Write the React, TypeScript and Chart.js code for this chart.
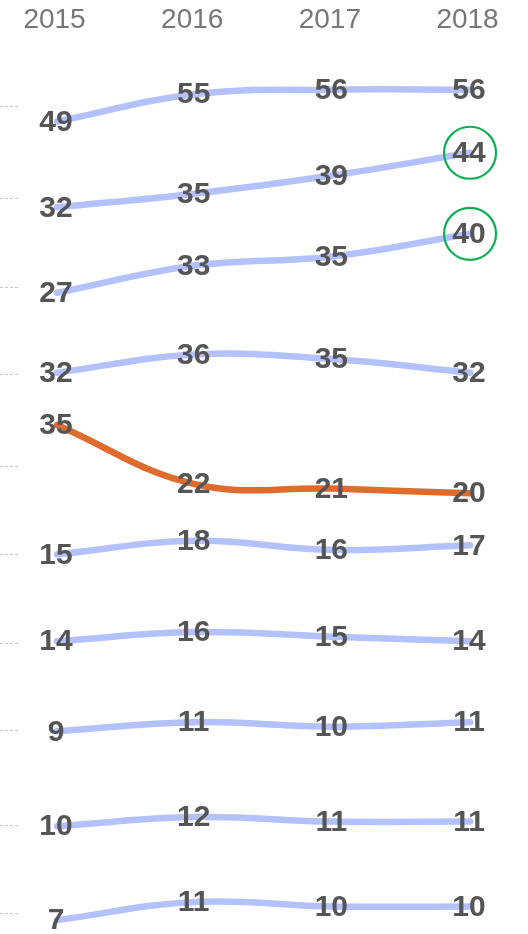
import React, { useEffect, useRef } from 'react';
import { Chart, registerables } from 'chart.js';

Chart.register(...registerables);

// ---- data ----
const years = [2015, 2016, 2017, 2018];
const row1 = [49, 55, 56, 56];
const row2 = [32, 35, 39, 44];
const row3 = [27, 33, 35, 40];
const row4 = [32, 36, 35, 32];
const row5 = [35, 22, 21, 20];
const row6 = [15, 18, 16, 17];
const row7 = [14, 16, 15, 14];
const row8 = [9, 11, 10, 11];
const row9 = [10, 12, 11, 11];
const row10 = [7, 11, 10, 10];
const rows = [row1, row2, row3, row4, row5, row6, row7, row8, row9, row10];
const highlightRow = 4; // orange row (index)
const circledRows = [1, 2]; // rows whose 2018 value is circled
const circledYear = 2018;

// ---- layout options (per-row axis windows) ----
const rowAxisMin = [52.3, 34.04, 28.25, 31.65, 25.8, 14.88, 13.56, 9.2, 10.22, 8.5];
const rowAxisHeight = [67, 91.7, 89.3, 87.3, 92.7, 88.3, 88.4, 87.3, 95, 88.3];
const pxPerUnit = 4.55;

const FONT = "'Liberation Sans', Arial, Helvetica, sans-serif";
const BLUE = '#b4c1ff';
const ORANGE = '#e06b2e';
const GREEN = '#0fae55';

const valueLabels = {
  id: 'valueLabels',
  afterDatasetsDraw(chart: any) {
    const ctx = chart.ctx;
    ctx.save();
    ctx.font = `bold 30px ${FONT}`;
    ctx.fillStyle = '#555555';
    ctx.textAlign = 'center';
    ctx.textBaseline = 'middle';
    chart.data.datasets.forEach((ds: any, i: number) => {
      const meta = chart.getDatasetMeta(i);
      meta.data.forEach((pt: any, j: number) => {
        ctx.fillText(String(ds.data[j].y), pt.x - 1, pt.y + 1);
      });
    });
    ctx.restore();
  },
};

const zeroPadding = (axis: any) => {
  axis.paddingLeft = 0;
  axis.paddingRight = 0;
  axis.paddingTop = 0;
  axis.paddingBottom = 0;
};

export default function App() {
  const ref = useRef<HTMLCanvasElement>(null);

  useEffect(() => {
    if (!ref.current) return;
    const scales: any = {
      x: {
        type: 'linear',
        position: 'top',
        min: 2014.731,
        max: 2018.421,
        afterBuildTicks: (axis: any) => {
          axis.ticks = years.map((v) => ({ value: v }));
        },
        afterFit: zeroPadding,
        grid: { display: false, drawTicks: false },
        border: { display: false },
        ticks: {
          color: '#777777',
          font: { family: FONT, size: 28 },
          padding: 3,
          labelOffset: -2.5,
          callback: (v: any) => String(v),
        },
      },
    };
    rows.forEach((_, i) => {
      scales['y' + i] = {
        type: 'linear',
        position: 'left',
        stack: 'rows',
        stackWeight: rowAxisHeight[i],
        weight: 10 - i,
        min: rowAxisMin[i],
        max: rowAxisMin[i] + rowAxisHeight[i] / pxPerUnit,
        afterBuildTicks: (axis: any) => {
          axis.ticks = [{ value: axis.min }];
        },
        afterFit: zeroPadding,
        border: { display: false },
        grid: {
          display: true,
          drawOnChartArea: false,
          drawTicks: true,
          tickLength: 20,
          tickColor: '#c4c4c4',
          tickWidth: 1,
          tickBorderDash: [3, 2],
        },
        ticks: { display: false },
      };
    });

    const datasets = rows.map((vals, i) => ({
      label: 'row' + (i + 1),
      data: vals.map((v, j) => ({ x: years[j], y: v })),
      yAxisID: 'y' + i,
      borderColor: i === highlightRow ? ORANGE : BLUE,
      borderWidth: 6.5,
      borderCapStyle: 'round',
      borderJoinStyle: 'round',
      tension: 0.4,
      clip: false,
      pointStyle: 'circle',
      pointRadius: (ctx: any) =>
        circledRows.includes(i) && years[ctx.dataIndex] === circledYear ? 26 : 0,
      pointBorderColor: GREEN,
      pointBackgroundColor: 'rgba(0,0,0,0)',
      pointBorderWidth: 2.2,
      fill: false,
    }));

    const chart = new Chart(ref.current, {
      type: 'line',
      data: { datasets } as any,
      options: {
        responsive: false,
        animation: false,
        events: [],
        layout: { autoPadding: false, padding: { top: 0, bottom: 20.7, left: 0, right: 0 } },
        plugins: { legend: { display: false }, tooltip: { enabled: false } },
        scales,
      } as any,
      plugins: [valueLabels],
    });
    return () => chart.destroy();
  }, []);

  return (
    <div style={{ position: 'absolute', left: 0, top: 0, width: 528, height: 934, background: '#fff' }}>
      <canvas ref={ref} width={528} height={934} style={{ display: 'block' }} />
    </div>
  );
}
